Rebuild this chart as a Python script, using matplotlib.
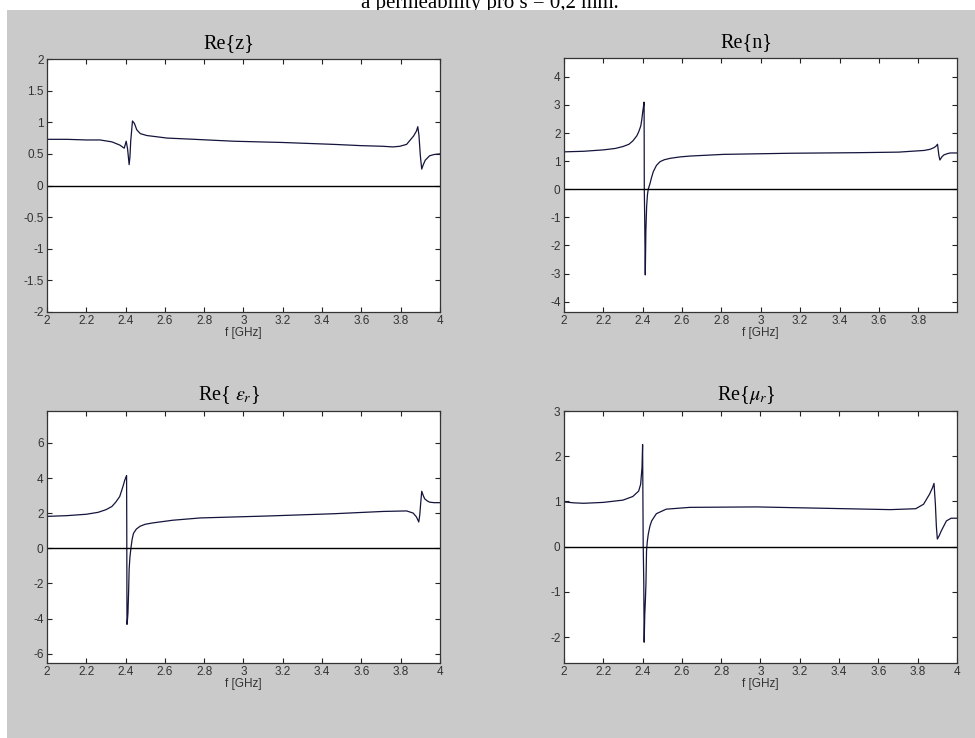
import matplotlib
matplotlib.use("Agg")
import matplotlib.pyplot as plt
from matplotlib.patches import Rectangle
from matplotlib.ticker import FormatStrFormatter, MultipleLocator

plt.rcParams['font.family'] = ['Liberation Sans', 'DejaVu Sans']
plt.rcParams['axes.unicode_minus'] = False
plt.rcParams['mathtext.fontset'] = 'stix'

# Re{z}
f_z = [2.00, 2.10, 2.20, 2.27, 2.33, 2.37, 2.393, 2.403, 2.410, 2.418,
       2.422, 2.426, 2.435, 2.445, 2.457, 2.475, 2.508, 2.56, 2.61, 2.75,
       2.95, 3.2, 3.46, 3.6, 3.71, 3.76, 3.795, 3.83, 3.846, 3.865,
       3.88, 3.887, 3.893, 3.90, 3.907, 3.915, 3.925, 3.947, 3.97, 4.0]
re_z = [0.73, 0.73, 0.72, 0.72, 0.69, 0.64, 0.59, 0.70, 0.58, 0.33,
        0.45, 0.70, 1.02, 0.98, 0.88, 0.82, 0.79, 0.77, 0.75, 0.73,
        0.70, 0.68, 0.65, 0.63, 0.62, 0.61, 0.62, 0.65, 0.71, 0.78,
        0.86, 0.93, 0.79, 0.47, 0.26, 0.33, 0.40, 0.47, 0.49, 0.50]

# Re{n}
f_n = [2.00, 2.10, 2.20, 2.26, 2.30, 2.33, 2.35, 2.37, 2.38, 2.39,
       2.395, 2.400, 2.404, 2.407, 2.408, 2.410, 2.412, 2.413, 2.416, 2.420,
       2.424, 2.428, 2.437, 2.445, 2.454, 2.470, 2.488, 2.51, 2.54, 2.59,
       2.64, 2.81, 3.15, 3.49, 3.70, 3.83, 3.86, 3.88, 3.89, 3.898,
       3.905, 3.910, 3.92, 3.93, 3.95, 3.963, 3.997]
re_n = [1.33, 1.35, 1.40, 1.45, 1.52, 1.60, 1.72, 1.90, 2.05, 2.25,
        2.46, 2.75, 2.95, 3.10, 0.0, -1.0, -2.4, -3.05, -1.5, -0.6,
        -0.2, 0.0, 0.2, 0.42, 0.63, 0.85, 0.98, 1.05, 1.10, 1.15,
        1.18, 1.24, 1.28, 1.30, 1.32, 1.38, 1.42, 1.48, 1.53, 1.60,
        1.20, 1.04, 1.15, 1.22, 1.27, 1.29, 1.29]

# Re{eps_r}
f_e = [2.00, 2.10, 2.20, 2.26, 2.30, 2.33, 2.35, 2.37, 2.38, 2.39,
       2.395, 2.400, 2.405, 2.406, 2.407, 2.410, 2.412, 2.415, 2.418, 2.422,
       2.427, 2.433, 2.44, 2.455, 2.474, 2.50, 2.54, 2.64, 2.78, 3.12,
       3.46, 3.71, 3.83, 3.863, 3.88, 3.892, 3.897, 3.902, 3.907, 3.915,
       3.922, 3.935, 3.947, 3.97, 4.0]
re_e = [1.82, 1.86, 1.94, 2.05, 2.20, 2.38, 2.63, 2.95, 3.29, 3.65,
        3.86, 4.0, 4.14, 1.0, -4.33, -4.0, -3.67, -2.6, -1.2, -0.5,
        0.0, 0.5, 0.85, 1.10, 1.26, 1.37, 1.45, 1.60, 1.73, 1.84,
        1.97, 2.10, 2.13, 2.01, 1.79, 1.50, 1.90, 2.60, 3.25, 3.00,
        2.82, 2.70, 2.63, 2.60, 2.60]

# Re{mu_r}
f_m = [2.00, 2.05, 2.10, 2.20, 2.30, 2.35, 2.38, 2.39, 2.397, 2.400,
       2.403, 2.406, 2.408, 2.411, 2.414, 2.417, 2.420, 2.424, 2.429, 2.437,
       2.446, 2.47, 2.52, 2.64, 2.98, 3.32, 3.66, 3.79, 3.83, 3.86,
       3.875, 3.883, 3.89, 3.895, 3.90, 3.91, 3.92, 3.946, 3.97, 4.0]
re_m = [0.99, 0.97, 0.96, 0.98, 1.03, 1.11, 1.23, 1.38, 1.75, 2.26,
        0.05, -0.8, -2.11, -1.5, -1.2, -0.82, -0.09, 0.12, 0.28, 0.45,
        0.57, 0.73, 0.83, 0.87, 0.88, 0.85, 0.82, 0.84, 0.94, 1.16,
        1.30, 1.40, 0.94, 0.45, 0.17, 0.25, 0.35, 0.57, 0.63, 0.63]

W, H = 975, 738
fig = plt.figure(figsize=(W / 100, H / 100), dpi=100, facecolor='white')

# grey window background, page text peeking above it
fig.patches.append(Rectangle((7 / W, 0), 1 - 7 / W, (H - 10) / H,
                             transform=fig.transFigure, facecolor='#cacaca',
                             edgecolor='none', zorder=0))
fig.text(490 / W, 1 - 8 / H, "a permeability pro s = 0,2 mm.", ha='center',
         va='baseline', fontsize=15, family='Liberation Serif', zorder=-1)

panels = [
    # x, y, title, ylim, ytick step, xmax, box (left, top, right, bottom px)
    (f_z, re_z, "Re{z}", (-2, 2), 0.5, 4.0, (47, 59, 440, 312)),
    (f_n, re_n, "Re{n}", (-4.37, 4.67), 1, 3.997, (564, 58, 957, 312)),
    (f_e, re_e, r"Re{ $\epsilon_r$}", (-6.53, 7.82), 2, 4.0, (47, 411, 440, 663)),
    (f_m, re_m, r"Re{$\mu_r$}", (-2.57, 3), 1, 4.0, (564, 411, 957, 663)),
]

for x, y, title, ylim, ystep, xmax, (l, t, r, b) in panels:
    ax = fig.add_axes([l / W, (H - b) / H, (r - l) / W, (b - t) / H])
    ax.set_zorder(2)
    ax.plot(x, y, color='#14143c', lw=0.9)
    ax.axhline(0, color='black', lw=1)
    ax.set_xlim(2, xmax)
    ax.set_ylim(*ylim)
    ax.xaxis.set_major_locator(MultipleLocator(0.2))
    ax.yaxis.set_major_locator(MultipleLocator(ystep))
    ax.xaxis.set_major_formatter(FormatStrFormatter('%g'))
    ax.yaxis.set_major_formatter(FormatStrFormatter('%g'))
    ax.tick_params(direction='in', top=True, right=True, length=3.5,
                   width=0.8, color='#222222', labelsize=8.5,
                   labelcolor='#333333', pad=2.5)
    for s in ax.spines.values():
        s.set_color('#333333')
        s.set_linewidth(0.9)
    ax.set_xlabel("f [GHz]", fontsize=8.5, color='#333333', labelpad=0)
    ax.text(0.464, 1 + 11 / (b - t), title, transform=ax.transAxes,
            ha='center', va='baseline', fontsize=14.5,
            family='Liberation Serif')

fig.savefig("out.png", dpi=100, facecolor=fig.get_facecolor())
